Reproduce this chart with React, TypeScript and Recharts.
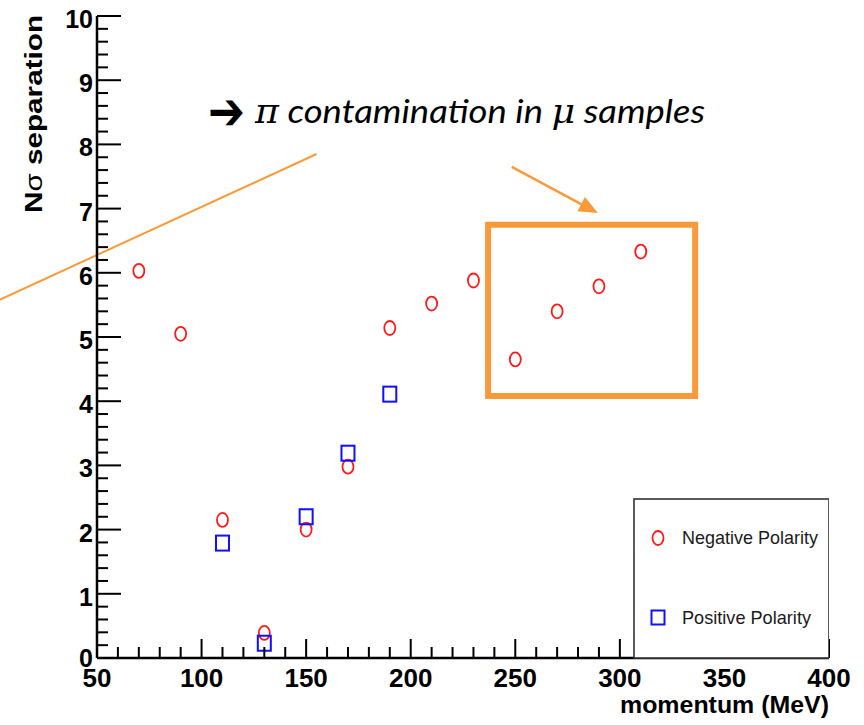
import React from "react";
import {
  ScatterChart,
  Scatter,
  XAxis,
  YAxis,
  ReferenceArea,
  ReferenceLine,
  Customized,
} from "recharts";

// momentum bins (MeV) and N-sigma separation per polarity
const negativeMomentum = [70, 90, 110, 130, 150, 170, 190, 210, 230, 250, 270, 290, 310];
const negativeSeparation = [6.03, 5.05, 2.15, 0.39, 2.0, 2.98, 5.14, 5.52, 5.88, 4.65, 5.4, 5.79, 6.33];

const positiveMomentum = [110, 130, 150, 170, 190];
const positiveSeparation = [1.79, 0.23, 2.2, 3.19, 4.11];

const xMajorTicks = [50, 100, 150, 200, 250, 300, 350, 400];
const yMajorTicks = [0, 1, 2, 3, 4, 5, 6, 7, 8, 9, 10];

// minor ticks every 10 MeV and every 0.2 sigma
const xTicks = Array.from({ length: 36 }, (_, i) => 50 + i * 10);
const yTicks = Array.from({ length: 51 }, (_, i) => (i * 2) / 10);

const negativeData = negativeMomentum.map((x, i) => ({ x, y: negativeSeparation[i] }));
const positiveData = positiveMomentum.map((x, i) => ({ x, y: positiveSeparation[i] }));

const ORANGE = "#F89A3A";
const LABEL_FONT = "'Liberation Sans', Arial, sans-serif";

const XTick = (props: any) => {
  const { x, y, payload } = props;
  const v = payload.value;
  const major = xMajorTicks.includes(v);
  return (
    <g>
      <line x1={x} x2={x} y1={y} y2={y - (major ? 19 : 11)} stroke="#000" strokeWidth={2} />
      {major && (
        <text x={x} y={y + 29} textAnchor="middle" fontFamily={LABEL_FONT} fontWeight="bold" fontSize={26} fill="#000">
          {v}
        </text>
      )}
    </g>
  );
};

const YTick = (props: any) => {
  const { x, y, payload } = props;
  const v = payload.value;
  const major = yMajorTicks.some((t) => Math.abs(t - v) < 1e-6);
  // the zero label sits a touch higher so it only grazes the "50" below it
  const dy = Math.abs(v) < 1e-6 ? 9 : 12;
  return (
    <g>
      <line x1={x} x2={x + (major ? 24 : 11)} y1={y} y2={y} stroke="#000" strokeWidth={2} />
      {major && (
        <text x={x - 4} y={y + dy} textAnchor="end" fontFamily={LABEL_FONT} fontWeight="bold" fontSize={25} fill="#000">
          {Math.round(v)}
        </text>
      )}
    </g>
  );
};

const OpenCircle = (props: any) => {
  const { cx, cy } = props;
  return <ellipse cx={cx} cy={cy} rx={5.5} ry={7} fill="none" stroke="#ff1a1a" strokeWidth={1.8} />;
};

const OpenSquare = (props: any) => {
  const { cx, cy } = props;
  return <rect x={cx - 6.5} y={cy - 7.5} width={13} height={15} fill="none" stroke="#1010ff" strokeWidth={2} />;
};

// straight orange arrow with a filled head
const ArrowShape = (props: any) => {
  const { x1, y1, x2, y2 } = props;
  if (x1 == null) return null;
  const ang = Math.atan2(y2 - y1, x2 - x1);
  const len = 19;
  const half = 8;
  const bx = x2 - len * Math.cos(ang);
  const by = y2 - len * Math.sin(ang);
  const px = -Math.sin(ang) * half;
  const py = Math.cos(ang) * half;
  return (
    <g>
      <line x1={x1} y1={y1} x2={bx} y2={by} stroke={ORANGE} strokeWidth={2.5} />
      <polygon points={`${x2},${y2} ${bx + px},${by + py} ${bx - px},${by - py}`} fill={ORANGE} />
    </g>
  );
};

const Annotations = () => (
  <g>
    <text
      x={33}
      y={114}
      transform="rotate(-90 33 114)"
      textAnchor="middle"
      dominantBaseline="central"
      fontFamily={LABEL_FONT}
      fontWeight="bold"
      fontSize={24}
      textLength={198}
      lengthAdjust="spacingAndGlyphs"
      fill="#000"
    >
      N<tspan fontWeight="normal">σ</tspan> separation
    </text>
    <text
      x={829}
      y={713}
      textAnchor="end"
      fontFamily={LABEL_FONT}
      fontWeight="bold"
      fontSize={24}
      textLength={209}
      lengthAdjust="spacingAndGlyphs"
      fill="#000"
    >
      momentum (MeV)
    </text>
    <text x={208} y={129} fontFamily="'DejaVu Sans', sans-serif" fontWeight="bold" fontSize={52} textLength={37} lengthAdjust="spacingAndGlyphs" fill="#000">
      ➔
    </text>
    <text
      x={255}
      y={123}
      fontFamily="Lato, 'Open Sans', sans-serif"
      fontStyle="italic"
      fontSize={33}
      textLength={450}
      lengthAdjust="spacingAndGlyphs"
      fill="#000"
    >
      <tspan fontFamily="'DejaVu Serif', serif">π</tspan> contamination in <tspan fontFamily="'DejaVu Serif', serif">μ</tspan> samples
    </text>
  </g>
);

const LegendBox = () => (
  <svg width={196} height={161} style={{ position: "absolute", left: 633, top: 498 }}>
    <rect x={1} y={1} width={195} height={159} fill="#fff" stroke="#333" strokeWidth={1.6} />
    <ellipse cx={25} cy={40} rx={5.5} ry={7} fill="none" stroke="#ff1a1a" strokeWidth={1.8} />
    <text x={49} y={46} fontFamily={LABEL_FONT} fontSize={19} textLength={136} lengthAdjust="spacingAndGlyphs" fill="#1a1a1a">
      Negative Polarity
    </text>
    <rect x={18.5} y={112.5} width={13} height={14} fill="none" stroke="#1010ff" strokeWidth={2} />
    <text x={49} y={126} fontFamily={LABEL_FONT} fontSize={19} textLength={129} lengthAdjust="spacingAndGlyphs" fill="#1a1a1a">
      Positive Polarity
    </text>
  </svg>
);

export default function App() {
  return (
    <div style={{ position: "absolute", left: 0, top: 0, width: 864, height: 725, background: "#fff" }}>
      <ScatterChart width={864} height={725} margin={{ top: 16, right: 35, bottom: 0, left: 0 }}>
        <XAxis
          type="number"
          dataKey="x"
          domain={[50, 400]}
          ticks={xTicks}
          interval={0}
          tickSize={0}
          tickMargin={0}
          tick={(p: any) => <XTick {...p} />}
          axisLine={{ stroke: "#000", strokeWidth: 2.5 }}
          tickLine={false}
          height={67}
        />
        <XAxis xAxisId="top" type="number" orientation="top" domain={[50, 400]} height={0} tick={false} tickLine={false} axisLine={{ stroke: "#444", strokeWidth: 1.8 }} />
        <YAxis
          type="number"
          dataKey="y"
          domain={[0, 10]}
          ticks={yTicks}
          interval={0}
          tickSize={0}
          tickMargin={0}
          tick={(p: any) => <YTick {...p} />}
          axisLine={{ stroke: "#000", strokeWidth: 2.5 }}
          tickLine={false}
          width={97}
        />
        <YAxis yAxisId="right" type="number" orientation="right" domain={[0, 10]} width={0} tick={false} tickLine={false} axisLine={{ stroke: "#444", strokeWidth: 1.8 }} />

        <ReferenceArea x1={237} x2={336} y1={4.08} y2={6.75} fill="none" stroke={ORANGE} strokeWidth={6} ifOverflow="visible" />
        <ReferenceLine segment={[{ x: 3.4, y: 5.58 }, { x: 155, y: 7.85 }]} stroke={ORANGE} strokeWidth={2} ifOverflow="visible" />
        <ReferenceLine segment={[{ x: 248.3, y: 7.65 }, { x: 289.5, y: 6.93 }]} ifOverflow="visible" shape={(p: any) => <ArrowShape {...p} />} />

        <Scatter data={negativeData} shape={(p: any) => <OpenCircle {...p} />} isAnimationActive={false} />
        <Scatter data={positiveData} shape={(p: any) => <OpenSquare {...p} />} isAnimationActive={false} />

        <Customized component={Annotations} />
      </ScatterChart>
      <LegendBox />
    </div>
  );
}
